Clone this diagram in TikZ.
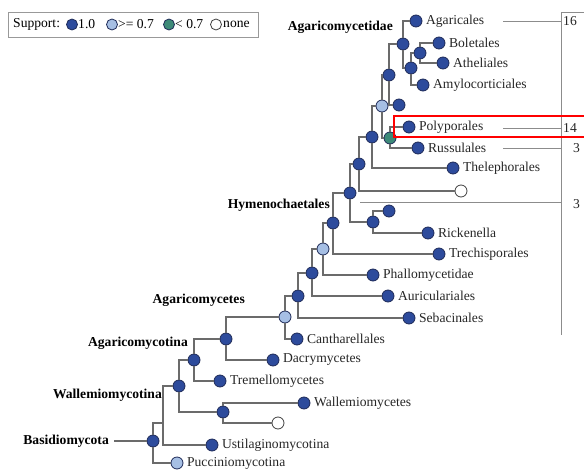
\documentclass[tikz,border=0pt]{standalone}
\usepackage{fontspec}
\setmainfont{Liberation Serif}
\usetikzlibrary{positioning,backgrounds}
\definecolor{bsdark}{HTML}{2D4B9C}
\definecolor{bslight}{HTML}{A6BFE4}
\definecolor{bsgreen}{HTML}{3D8A78}
\definecolor{bsedge}{HTML}{1F2B58}
\definecolor{bsline}{HTML}{6B6B6B}

\begin{document}
\begin{tikzpicture}[
  x=1pt, y=-1pt,
  font=\fontsize{13.6}{15}\selectfont,
  bs/.style={circle, draw=bsedge, line width=0.8pt, minimum size=12pt, inner sep=0pt, fill=#1},
  bsfull/.style={bs=bsdark},
  bsmid/.style={bs=bslight},
  bslow/.style={bs=bsgreen},
  bsnone/.style={bs=white, draw=black!75},
  taxon/.style={label={[inner sep=1pt, label distance=2.5pt, text=black!85]right:#1}},
  clade/.style={font=\fontsize{13.6}{15}\selectfont\bfseries, inner sep=1pt, anchor=east},
  branch/.style={draw=bsline, line width=1.4pt},
  tally/.style={draw=black!45, line width=0.8pt},
  count/.style={inner sep=0pt, anchor=west, text=black!85},
]
  \useasboundingbox (0,0) rectangle (584,469);

  % Legend
  \node[draw=black!40, line width=0.8pt, minimum width=250pt, minimum height=25pt, inner sep=0pt] (legend) at (133,24.5) {};
  \node[inner sep=0pt, anchor=west] (suplbl) at (13,24.5) {Support:};
  \node[bsfull, minimum size=11pt] (lgfull) at (72,24.5) {};
  \node[inner sep=0pt, anchor=west] (lgfulltx) at (78,24.5) {1.0};
  \node[bsmid, minimum size=11pt] (lgmid) at (112,24.5) {};
  \node[inner sep=0pt, anchor=west] (lgmidtx) at (118,24.5) {>= 0.7};
  \node[bslow, minimum size=11pt] (lglow) at (169,24.5) {};
  \node[inner sep=0pt, anchor=west] (lglowtx) at (175,24.5) {< 0.7};
  \node[bsnone, minimum size=11pt] (lgnone) at (216,24.5) {};
  \node[inner sep=0pt, anchor=west] (lgnonetx) at (223,24.5) {none};

  % Leaves
  \node[bsfull, taxon=Agaricales] (agar) at (416,21) {};
  \node[bsfull, taxon=Boletales] (bole) at (439,43) {};
  \node[bsfull, taxon=Atheliales] (athe) at (443,63) {};
  \node[bsfull, taxon=Amylocorticiales] (amyl) at (423,85) {};
  \node[bsfull] (lfE) at (399,105) {};
  \node[bsfull, taxon=Polyporales] (poly) at (409,127) {};
  \node[bsfull, taxon=Russulales] (russ) at (418,148) {};
  \node[bsfull, taxon=Thelephorales] (thel) at (453,168) {};
  \node[bsnone] (open1) at (461,191) {};
  \node[bsfull] (lfR) at (389,211) {};
  \node[bsfull, taxon=Rickenella] (rick) at (428,233) {};
  \node[bsfull, taxon=Trechisporales] (trec) at (439,254) {};
  \node[bsfull, taxon=Phallomycetidae] (phal) at (373,275) {};
  \node[bsfull, taxon=Auriculariales] (auri) at (388,296) {};
  \node[bsfull, taxon=Sebacinales] (seba) at (409,318) {};
  \node[bsfull, taxon=Cantharellales] (cant) at (297,339) {};
  \node[bsfull, taxon=Dacrymycetes] (dacr) at (273,360) {};
  \node[bsfull, taxon=Tremellomycetes] (trem) at (220,381) {};
  \node[bsfull, taxon=Wallemiomycetes] (wall) at (304,403) {};
  \node[bsnone] (open2) at (278,423) {};
  \node[bsfull, taxon=Ustilaginomycotina] (ustil) at (212,445) {};
  \node[bsmid, taxon=Pucciniomycotina] (pucc) at (177,463) {};

  % Inner nodes
  \node[bsfull] (nB) at (420,53) {};
  \node[bsfull] (nC) at (411,68) {};
  \node[bsfull] (nA) at (403,44) {};
  \node[bsfull] (nD) at (389,75) {};
  \node[bslow] (nGr) at (390,138) {};
  \node[bsmid] (nLb) at (382,106) {};
  \node[bsfull] (nF) at (372,137) {};
  \node[bsfull] (nG) at (359,164) {};
  \node[bsfull] (nI) at (373,222) {};
  \node[bsfull] (nH) at (350,193) {};
  \node[bsfull] (nJ) at (333,223) {};
  \node[bsmid] (nK) at (323,249) {};
  \node[bsfull] (nL) at (312,273) {};
  \node[bsfull] (nM) at (298,296) {};
  \node[bsmid] (nN) at (285,317) {};
  \node[bsfull] (nO) at (226,339) {};
  \node[bsfull] (nP) at (194,360) {};
  \node[bsfull] (nR) at (223,412) {};
  \node[bsfull] (nQ) at (179,386) {};
  \coordinate (nT) at (163,423);
  \node[bsfull] (root) at (153,441) {};

  % Branches
  \foreach \p/\a/\b in {nB/bole/athe, nC/nB/amyl, nA/agar/nC, nD/nA/lfE,
      nGr/poly/russ, nLb/nD/nGr, nF/nLb/thel, nG/nF/open1, nI/lfR/rick,
      nH/nG/nI, nJ/nH/trec, nK/nJ/phal, nL/nK/auri, nM/nL/seba, nN/nM/cant,
      nO/nN/dacr, nP/nO/trem, nR/wall/open2, nQ/nP/nR, nT/nQ/ustil, root/nT/pucc} {
    \draw[branch] (\p) |- (\a);
    \draw[branch] (\p) |- (\b);
  }

  % Clade names
  \node[clade] (agcd) at (394,27) {Agaricomycetidae};
  \node[clade] (hyme) at (331,205) {Hymenochaetales};
  \node[clade] (agcs) at (246,300) {Agaricomycetes};
  \node[clade] (agco) at (189,343) {Agaricomycotina};
  \node[clade] (waco) at (163,395) {Wallemiomycotina};
  \node[clade] (basid) at (110,441) {Basidiomycota};
  \draw[branch] (basid.east) ++(4,0) coordinate (bsStart) -- (root);

  % Counts on the right
  \coordinate (bkTop) at (561,12);
  \coordinate (bkBot) at (561,335);
  \draw[tally] (590,12) -- (bkTop) -- (bkBot);
  \coordinate (t16) at (503,21);
  \coordinate (t14) at (503,128);
  \coordinate (t3a) at (503,148);
  \coordinate (t3b) at (360,202);
  \foreach \c in {t16,t14,t3a,t3b}
    \draw[tally] (\c) -- (bkTop |- \c);
  \node[count] (c16) at (563,21) {16};
  \node[count] (c14) at (563,128) {14};
  \node[count] (c3a) at (573,148) {3};
  \node[count] (c3b) at (573,204) {3};

  % Highlight
  \draw[red, line width=2.6pt] (394,116) rectangle (600,137);
\end{tikzpicture}
\end{document}
